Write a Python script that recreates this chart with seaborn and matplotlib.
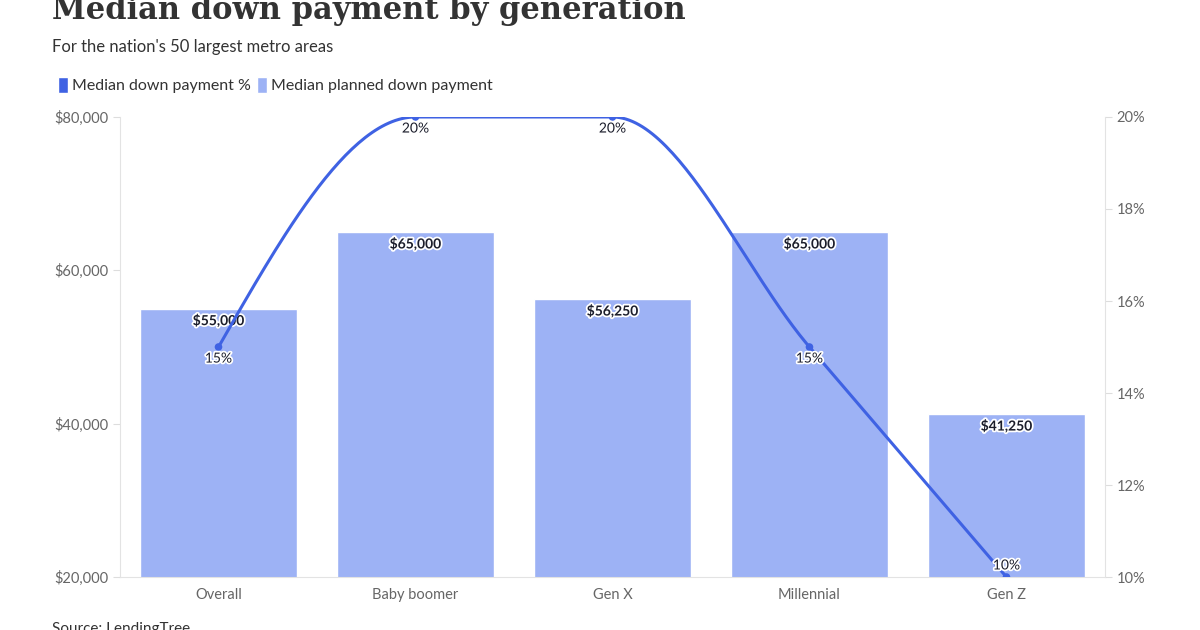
import numpy as np
import pandas as pd
import seaborn as sns
import matplotlib.pyplot as plt
from matplotlib.patches import Patch
from matplotlib.ticker import FuncFormatter
import matplotlib.patheffects as pe

# data
generations = ["Overall", "Baby boomer", "Gen X", "Millennial", "Gen Z"]
planned_down_payment = [55000, 65000, 56250, 65000, 41250]
down_payment_pct = [15, 20, 20, 15, 10]
bar_labels = ["$55,000", "$65,000", "$56,250", "$65,000", "$41,250"]
pct_labels = ["15%", "20%", "20%", "15%", "10%"]

bar_color = "#9db2f5"
line_color = "#3f62e3"
text_dark = "#333333"
tick_gray = "#666666"

sns.set_style("white")
plt.rcParams['font.family'] = ['Lato', 'DejaVu Sans']

df = pd.DataFrame({"generation": generations, "planned": planned_down_payment,
                   "pct": down_payment_pct})

fig = plt.figure(figsize=(12, 6.3), dpi=100)
ax = fig.add_axes([0.1, 0.0841, 0.8208, 0.7302])

sns.barplot(data=df, x="generation", y="planned", color=bar_color, width=0.8,
            saturation=1, ax=ax, zorder=1)
ax.set_ylim(20000, 80000)
ax.set_yticks([20000, 40000, 60000, 80000])
ax.yaxis.set_major_formatter(FuncFormatter(lambda v, p: f"${v:,.0f}"))
ax.set_xlabel("")
ax.set_ylabel("")
ax.set_xlim(-0.5, 4.5)

halo = [pe.withStroke(linewidth=2.5, foreground="white")]
for i, v in enumerate(planned_down_payment):
    ax.annotate(bar_labels[i], (i, v), xytext=(0, -4), textcoords="offset points",
                ha="center", va="top", fontsize=10, fontweight="bold",
                color="#1b1d2b", path_effects=halo, zorder=5)

# right axis: smoothed line (monotone cubic, like d3 curveMonotoneX)
ax2 = ax.twinx()
xs = np.arange(len(down_payment_pct), dtype=float)
ys = np.array(down_payment_pct, dtype=float)
sec = np.diff(ys)
tan = np.zeros_like(ys)
for k in range(1, len(ys) - 1):
    if sec[k - 1] * sec[k] > 0:
        tan[k] = 2 / (1 / sec[k - 1] + 1 / sec[k])
tan[0] = (3 * sec[0] - tan[1]) / 2
tan[-1] = (3 * sec[-1] - tan[-2]) / 2
cx, cy = [], []
for k in range(len(ys) - 1):
    t = np.linspace(0, 1, 60)
    h00 = 2 * t**3 - 3 * t**2 + 1
    h10 = t**3 - 2 * t**2 + t
    h01 = -2 * t**3 + 3 * t**2
    h11 = t**3 - t**2
    cx.extend(xs[k] + t)
    cy.extend(h00 * ys[k] + h10 * tan[k] + h01 * ys[k + 1] + h11 * tan[k + 1])
sns.lineplot(x=cx, y=cy, color=line_color, linewidth=2.2, ax=ax2, sort=False)
sns.scatterplot(x=xs, y=ys, color=line_color, s=30, edgecolor="none", ax=ax2, zorder=4)
ax2.set_ylim(10, 20)
ax2.set_yticks([10, 12, 14, 16, 18, 20])
ax2.yaxis.set_major_formatter(FuncFormatter(lambda v, p: f"{v:.0f}%"))
for i, v in enumerate(down_payment_pct):
    # the lowest label sits above its point so it stays inside the plot
    below = v > 10
    ax2.annotate(pct_labels[i], (i, v), xytext=(0, -4 if below else 4),
                 textcoords="offset points", ha="center",
                 va="top" if below else "bottom", fontsize=10, color="#1b1d2b",
                 path_effects=halo, zorder=6, annotation_clip=False)

for a in (ax, ax2):
    for s in a.spines.values():
        s.set_visible(False)
    a.tick_params(colors="#dddddd", labelcolor=tick_gray, labelsize=10.5, length=5, width=0.8)
ax.spines["left"].set_visible(True)
ax.spines["left"].set_color("#e3e3e3")
ax.spines["bottom"].set_visible(True)
ax.spines["bottom"].set_color("#e3e3e3")
ax2.spines["right"].set_visible(True)
ax2.spines["right"].set_color("#e3e3e3")
ax.tick_params(axis="x", length=0, pad=8)

# titles
fig.text(52 / 1200, 1 - 11 / 630, "Median down payment by generation",
         fontsize=22, fontweight="bold", family=["DejaVu Serif"], color=text_dark,
         ha="left", va="center")
fig.text(52 / 1200, 1 - 47 / 630, "For the nation's 50 largest metro areas",
         fontsize=12, color=text_dark, ha="left", va="center")
handles = [Patch(facecolor=line_color, label="Median down payment %"),
           Patch(facecolor=bar_color, label="Median planned down payment")]
fig.legend(handles=handles, loc="center left", bbox_to_anchor=(44 / 1200, 1 - 85 / 630),
           ncol=2, frameon=False, fontsize=11.5, handlelength=0.6, handleheight=1.2,
           handletextpad=0.25, columnspacing=0.4, labelcolor=text_dark)
fig.text(52 / 1200, 1 - 622 / 630, "Source: LendingTree", fontsize=11,
         color=text_dark, ha="left", va="top")

fig.savefig("out.png", dpi=100)
